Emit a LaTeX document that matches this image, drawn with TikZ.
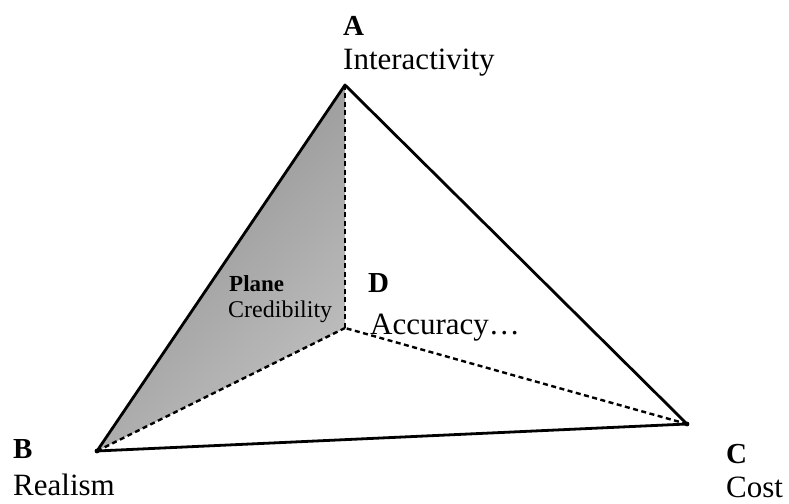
\documentclass[tikz,border=0pt]{standalone}
\usepackage{fontspec}
\setmainfont{Liberation Serif}
\begin{document}
\begin{tikzpicture}[x=1pt,y=1pt,
  edge/.style={line width=2.8pt, line join=round, line cap=round},
  hidden/.style={line width=2.4pt, dash pattern=on 5pt off 3.5pt},
  corner/.style={font=\fontsize{29}{32}\selectfont\bfseries, anchor=base west, inner sep=0pt},
  quality/.style={font=\fontsize{31}{34}\selectfont, anchor=base west, inner sep=0pt}]
  \useasboundingbox (0,0) rectangle (789,503);

  \coordinate (A) at (345,418);
  \coordinate (B) at (97,52);
  \coordinate (C) at (687,79);
  \coordinate (D) at (345,175);

  % shaded plane
  \shade[top color=black!45, bottom color=black!25, shading angle=45] (A) -- (B) -- (D) -- cycle;

  \draw[hidden] (A) -- (D);
  \draw[hidden] (B) -- (D);
  \draw[hidden] (C) -- (D);
  \draw[edge] (A) -- (B) -- (C) -- cycle;
  \fill (B) circle (2.4pt);
  \fill (C) circle (2.4pt);

  \node[corner] (labA) at (343,467) {A};
  \node[quality] (txtA) at (343,433) {Interactivity};
  \node[corner] (labB) at (13,45) {B};
  \node[quality] (txtB) at (13,8) {Realism};
  \node[corner] (labC) at (726,40) {C};
  \node[quality] (txtC) at (726,6) {Cost};
  \node[corner] (labD) at (368,210) {D};
  \node[quality] (txtD) at (370,168) {Accuracy…};

  \node[font=\fontsize{23}{26}\selectfont\bfseries, anchor=base west, inner sep=0pt] (plane) at (229,211) {Plane};
  \node[font=\fontsize{24}{27}\selectfont, anchor=base west, inner sep=0pt] (cred) at (228,185) {Credibility};
\end{tikzpicture}
\end{document}
